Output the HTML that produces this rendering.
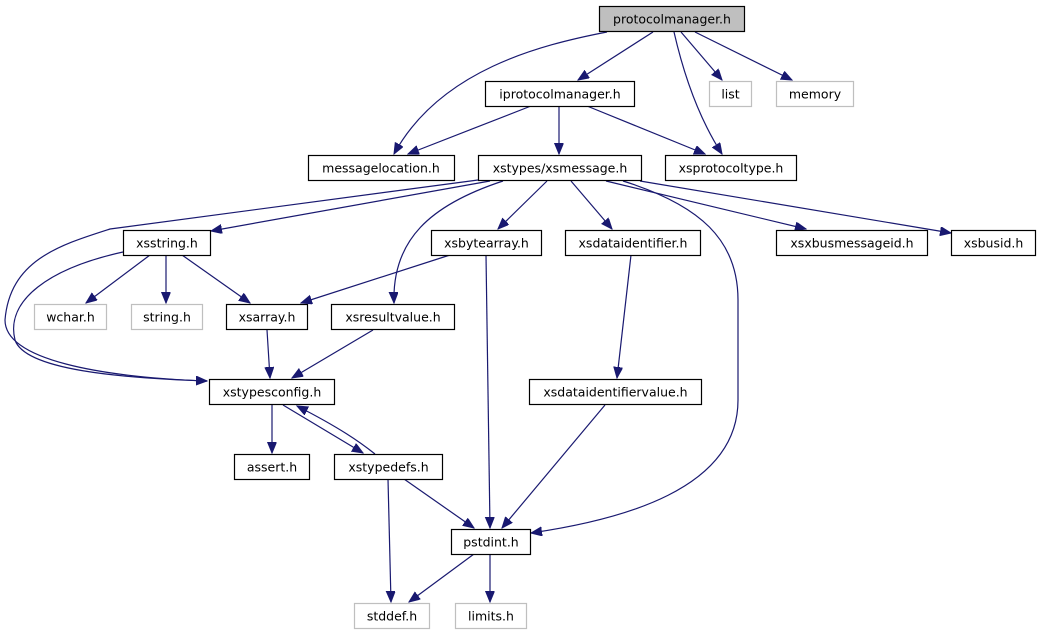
<!DOCTYPE html>
<html><head><meta charset="utf-8"><style>
html,body{margin:0;padding:0;background:#fff;}
svg{display:block;}
text{font-family:"DejaVu Sans","Liberation Sans",sans-serif;font-size:12.5px;fill:#000;text-anchor:middle;}
</style></head><body>
<svg width="1040" height="635" viewBox="0 0 1040 635" xmlns="http://www.w3.org/2000/svg">
<defs>
<marker id="a" markerUnits="userSpaceOnUse" markerWidth="12" markerHeight="10" refX="11" refY="4.5" orient="auto">
<path d="M0,0 L11,4.5 L0,9 Z" fill="#191970" stroke="#191970"/>
</marker>
</defs>
<g fill="none" stroke="#191970" stroke-width="1.2" marker-end="url(#a)">
<path d="M607,32 C540,45 440,70 394,154"/>
<path d="M653,32 L578,80"/>
<path d="M674,32 C685,80 700,120 722,154"/>
<path d="M681,32 L722,80"/>
<path d="M695,32 L792,80"/>
<path d="M531,106 L408,154"/>
<path d="M559,106 L559,154"/>
<path d="M587,106 L705,154"/>
<path d="M490,181 L211,231"/>
<path d="M478,180 L110,229 C60,245 10,260 5,320 C5,360 100,377 207,381"/>
<path d="M123,252 C50,268 5,300 15,340 C25,370 120,378 207,381" marker-end="none"/>
<path d="M503,181 C430,205 392,240 394,303"/>
<path d="M547,181 L498,229"/>
<path d="M571,181 L612,229"/>
<path d="M623,181 C700,205 738,240 738,300 L738,400 C738,490 620,520 531,533"/>
<path d="M606,181 L806,229"/>
<path d="M640,181 L951,233"/>
<path d="M150,255 L86,303"/>
<path d="M166,255 L166,303"/>
<path d="M182,255 L250,303"/>
<path d="M450,255 L301,303"/>
<path d="M486,255 L490,528"/>
<path d="M631,255 L617,378"/>
<path d="M267,330 L270,378"/>
<path d="M373,330 L292,378"/>
<path d="M272,405 L272,453"/>
<path d="M283,405 L363,453"/>
<path d="M375,454 C360,442 340,428 297,406"/>
<path d="M388,479 L391,602"/>
<path d="M404,479 L474,528"/>
<path d="M605,405 L502,528"/>
<path d="M474,554 L409,602"/>
<path d="M490,554 L490,602"/>
</g>
<g stroke-width="1.2">
<rect x="599.5" y="6.5" width="145" height="25" fill="#bfbfbf" stroke="#000"/>
<rect x="485.5" y="81.5" width="149" height="25" fill="#fff" stroke="#000"/>
<rect x="709.5" y="81.5" width="42" height="25" fill="#fff" stroke="#bfbfbf"/>
<rect x="776.5" y="81.5" width="77" height="25" fill="#fff" stroke="#bfbfbf"/>
<rect x="308.5" y="155.5" width="146" height="25" fill="#fff" stroke="#000"/>
<rect x="478.5" y="155.5" width="163" height="25" fill="#fff" stroke="#000"/>
<rect x="665.5" y="155.5" width="131" height="25" fill="#fff" stroke="#000"/>
<rect x="123.5" y="230.5" width="87" height="25" fill="#fff" stroke="#000"/>
<rect x="431.5" y="230.5" width="110" height="25" fill="#fff" stroke="#000"/>
<rect x="565.5" y="230.5" width="135" height="25" fill="#fff" stroke="#000"/>
<rect x="776.5" y="230.5" width="151" height="25" fill="#fff" stroke="#000"/>
<rect x="951.5" y="230.5" width="84" height="25" fill="#fff" stroke="#000"/>
<rect x="34.5" y="304.5" width="72" height="25" fill="#fff" stroke="#bfbfbf"/>
<rect x="131.5" y="304.5" width="71" height="25" fill="#fff" stroke="#bfbfbf"/>
<rect x="226.5" y="304.5" width="81" height="25" fill="#fff" stroke="#000"/>
<rect x="331.5" y="304.5" width="123" height="25" fill="#fff" stroke="#000"/>
<rect x="209.5" y="379.5" width="125" height="25" fill="#fff" stroke="#000"/>
<rect x="529.5" y="379.5" width="172" height="25" fill="#fff" stroke="#000"/>
<rect x="234.5" y="454.5" width="75" height="25" fill="#fff" stroke="#000"/>
<rect x="334.5" y="454.5" width="108" height="25" fill="#fff" stroke="#000"/>
<rect x="451.5" y="529.5" width="79" height="25" fill="#fff" stroke="#000"/>
<rect x="354.5" y="603.5" width="75" height="25" fill="#fff" stroke="#bfbfbf"/>
<rect x="455.5" y="603.5" width="71" height="25" fill="#fff" stroke="#bfbfbf"/>
</g>
<text x="672" y="23.5">protocolmanager.h</text>
<text x="560" y="98.5">iprotocolmanager.h</text>
<text x="730.5" y="98.5">list</text>
<text x="815" y="98.5">memory</text>
<text x="381" y="172.5">messagelocation.h</text>
<text x="560" y="172.5">xstypes/xsmessage.h</text>
<text x="731" y="172.5">xsprotocoltype.h</text>
<text x="167" y="247.5">xsstring.h</text>
<text x="486.5" y="247.5">xsbytearray.h</text>
<text x="633" y="247.5">xsdataidentifier.h</text>
<text x="852" y="247.5">xsxbusmessageid.h</text>
<text x="993.5" y="247.5">xsbusid.h</text>
<text x="70.5" y="321.5">wchar.h</text>
<text x="167" y="321.5">string.h</text>
<text x="267" y="321.5">xsarray.h</text>
<text x="393" y="321.5">xsresultvalue.h</text>
<text x="272" y="396.5">xstypesconfig.h</text>
<text x="615.5" y="396.5">xsdataidentifiervalue.h</text>
<text x="272" y="471.5">assert.h</text>
<text x="388.5" y="471.5">xstypedefs.h</text>
<text x="491" y="546.5">pstdint.h</text>
<text x="392" y="620.5">stddef.h</text>
<text x="491" y="620.5">limits.h</text>
</svg>
</body></html>
